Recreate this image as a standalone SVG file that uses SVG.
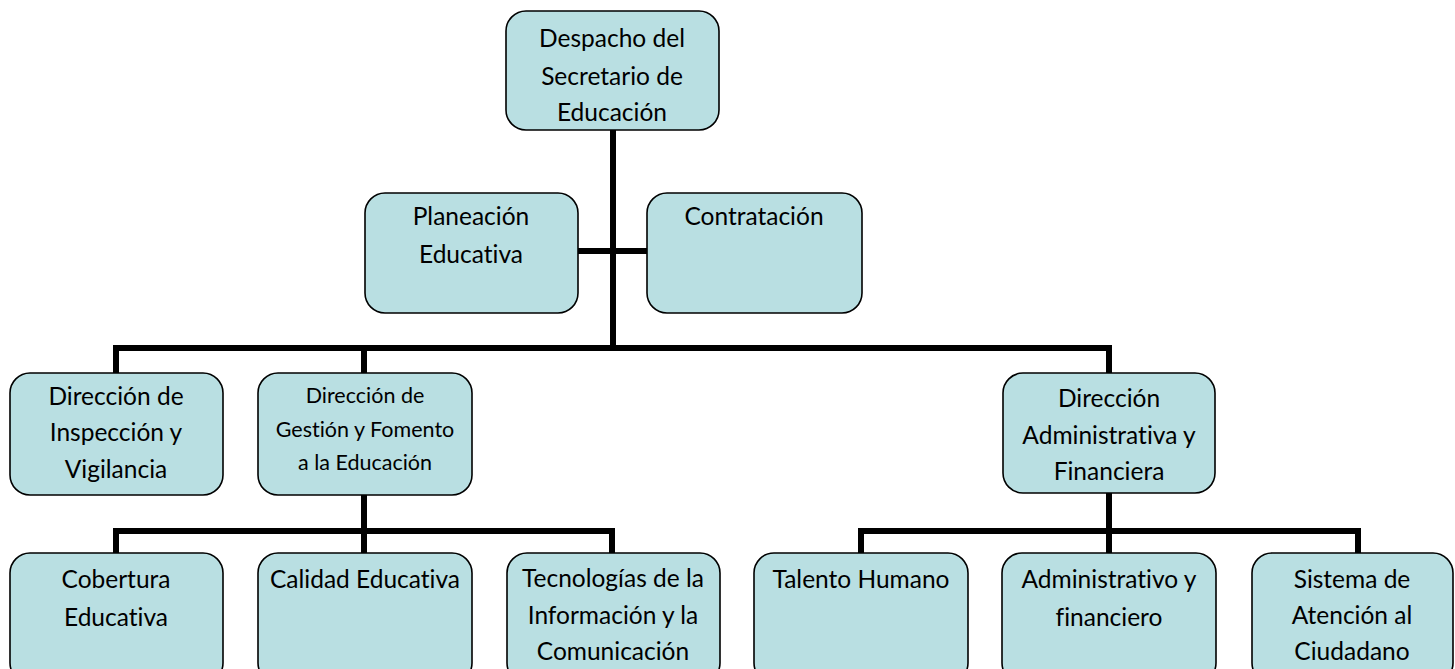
<svg xmlns="http://www.w3.org/2000/svg" width="1455" height="669" viewBox="0 0 1455 669">
<style>
.box{fill:#B9DFE2;stroke:#000;stroke-width:1.6}
.t{font-family:Lato,"Open Sans","Liberation Sans",sans-serif;font-size:24.5px;fill:#000;text-anchor:middle;font-variant-ligatures:none;font-feature-settings:"liga" 0}
.s{font-size:21.5px}
.c{fill:none;stroke:#000;stroke-width:6;stroke-linejoin:miter;stroke-linecap:butt}
</style>
<rect width="1455" height="669" fill="#fff"/>
<g id="connectors">
<path class="c" d="M613,130 V348"/>
<path class="c" d="M578,251 H647"/>
<path class="c" d="M116,373 V348 H1109 V373"/>
<path class="c" d="M364,348 V373"/>
<path class="c" d="M116,553 V531 H612 V553"/>
<path class="c" d="M364,495 V553"/>
<path class="c" d="M861,553 V531 H1358 V553"/>
<path class="c" d="M1109,493 V553"/>
</g>
<g id="despacho">
<rect class="box" x="506" y="11" width="213" height="119" rx="20"/>
<text class="t" x="612" y="47">Despacho del</text>
<text class="t" x="612" y="85">Secretario de</text>
<text class="t" x="612" y="121">Educación</text>
</g>
<g id="planeacion">
<rect class="box" x="365" y="193" width="213" height="120" rx="20"/>
<text class="t" x="471" y="225">Planeación</text>
<text class="t" x="471" y="263">Educativa</text>
</g>
<g id="contratacion">
<rect class="box" x="647" y="193" width="215" height="120" rx="20"/>
<text class="t" x="754" y="225">Contratación</text>
</g>
<g id="inspeccion">
<rect class="box" x="10" y="373" width="213" height="122" rx="20"/>
<text class="t" x="116" y="405">Dirección de</text>
<text class="t" x="116" y="441">Inspección y</text>
<text class="t" x="116" y="478">Vigilancia</text>
</g>
<g id="gestion">
<rect class="box" x="258" y="373" width="214" height="122" rx="20"/>
<text class="t s" x="365" y="403">Dirección de</text>
<text class="t s" x="365" y="437">Gestión y Fomento</text>
<text class="t s" x="365" y="470">a la Educación</text>
</g>
<g id="administrativa">
<rect class="box" x="1003" y="373" width="212" height="120" rx="20"/>
<text class="t" x="1109" y="407">Dirección</text>
<text class="t" x="1109" y="444">Administrativa y</text>
<text class="t" x="1109" y="480">Financiera</text>
</g>
<g id="cobertura">
<rect class="box" x="10" y="553" width="213" height="130" rx="20"/>
<text class="t" x="116" y="588">Cobertura</text>
<text class="t" x="116" y="626">Educativa</text>
</g>
<g id="calidad">
<rect class="box" x="258" y="553" width="214" height="130" rx="20"/>
<text class="t" x="365" y="588">Calidad Educativa</text>
</g>
<g id="tecnologias">
<rect class="box" x="507" y="553" width="213" height="130" rx="20"/>
<text class="t" x="613" y="587">Tecnologías de la</text>
<text class="t" x="613" y="624">Información y la</text>
<text class="t" x="613" y="660">Comunicación</text>
</g>
<g id="talento">
<rect class="box" x="754" y="553" width="214" height="130" rx="20"/>
<text class="t" x="861" y="588">Talento Humano</text>
</g>
<g id="administrativo">
<rect class="box" x="1002" y="553" width="214" height="130" rx="20"/>
<text class="t" x="1109" y="588">Administrativo y</text>
<text class="t" x="1109" y="626">financiero</text>
</g>
<g id="sistema">
<rect class="box" x="1252" y="553" width="201" height="130" rx="20"/>
<text class="t" x="1352" y="588">Sistema de</text>
<text class="t" x="1352" y="624">Atención al</text>
<text class="t" x="1352" y="660">Ciudadano</text>
</g>
</svg>
